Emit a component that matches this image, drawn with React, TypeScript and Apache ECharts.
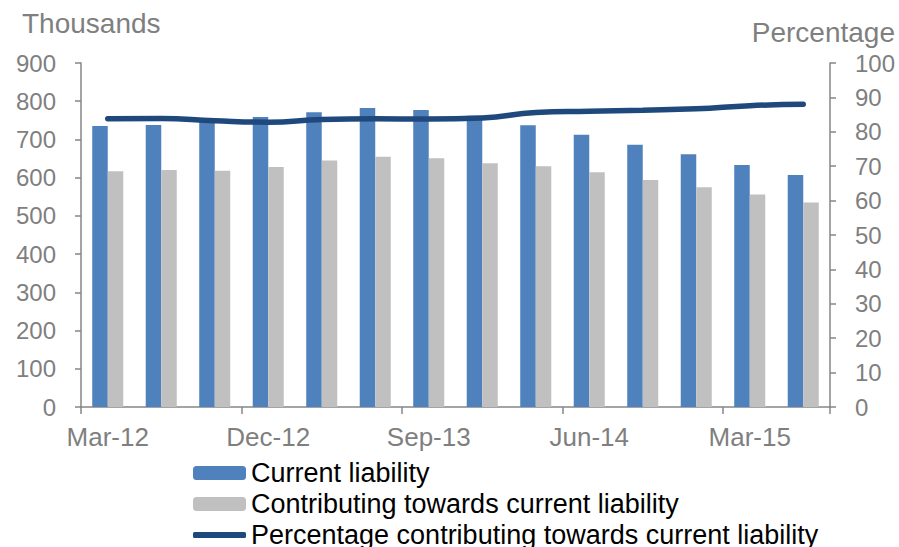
import React, { useEffect, useRef } from "react";
import * as echarts from "echarts";

const categories = [
  "Mar-12", "Jun-12", "Sep-12", "Dec-12", "Mar-13", "Jun-13", "Sep-13",
  "Dec-13", "Mar-14", "Jun-14", "Sep-14", "Dec-14", "Mar-15", "Jun-15",
];
const currentLiability = [735, 738, 750, 759, 771, 782, 777, 762, 737, 712, 686, 661, 633, 607];
const contributing = [617, 620, 618, 628, 645, 655, 651, 638, 630, 614, 594, 575, 556, 535];
const percentage = [83.8, 83.9, 83.2, 82.8, 83.6, 83.8, 83.7, 84.0, 85.6, 86.0, 86.3, 86.7, 87.6, 88.0];

const seriesNames = [
  "Current liability",
  "Contributing towards current liability",
  "Percentage contributing towards current liability",
];

const FONT = "'Liberation Sans', Arial, sans-serif";
const GREY = "#7f7f7f";
const AXIS = "#868686";

export default function App() {
  const ref = useRef<HTMLDivElement>(null);
  useEffect(() => {
    if (!ref.current) return;
    const chart = echarts.init(ref.current, null, { renderer: "svg" });
    const legendText = { color: "#000000", fontSize: 27, fontFamily: FONT, lineHeight: 28 };
    const legendBase = {
      orient: "vertical",
      left: 193,
      padding: 0,
      itemGap: 0,
      itemWidth: 53,
      textStyle: legendText,
    };
    chart.setOption({
      animation: false,
      backgroundColor: "#ffffff",
      textStyle: { fontFamily: FONT },
      grid: { left: 81, right: 69, top: 63, bottom: 140, containLabel: false },
      graphic: [
        {
          type: "text",
          left: 22,
          top: 9,
          style: { text: "Thousands", fill: GREY, font: `28px ${FONT}` },
        },
        {
          type: "text",
          right: 4,
          top: 18,
          style: { text: "Percentage", fill: GREY, font: `28px ${FONT}` },
        },
      ],
      legend: [
        { ...legendBase, top: 459, itemHeight: 14, data: [{ name: seriesNames[0] }] },
        { ...legendBase, top: 490, itemHeight: 14, data: [{ name: seriesNames[1] }] },
        {
          ...legendBase,
          top: 521,
          itemHeight: 6,
          data: [{ name: seriesNames[2], icon: "roundRect" }],
        },
      ],
      xAxis: {
        type: "category",
        data: categories,
        axisLine: { lineStyle: { color: AXIS, width: 1.5 } },
        axisTick: { show: true, interval: 2, length: 7, lineStyle: { color: AXIS, width: 1.5 } },
        axisLabel: { interval: 2, color: GREY, fontSize: 26, fontFamily: FONT, margin: 17 },
      },
      yAxis: [
        {
          type: "value",
          min: 0,
          max: 900,
          interval: 100,
          position: "left",
          splitLine: { show: false },
          axisLine: { show: true, lineStyle: { color: AXIS, width: 1.5 } },
          axisTick: { show: true, length: 6, lineStyle: { color: AXIS, width: 1.5 } },
          axisLabel: { color: GREY, fontSize: 24, fontFamily: FONT, margin: 25 },
        },
        {
          type: "value",
          min: 0,
          max: 100,
          interval: 10,
          position: "right",
          splitLine: { show: false },
          axisLine: { show: true, lineStyle: { color: AXIS, width: 1.5 } },
          axisTick: { show: true, length: 6, lineStyle: { color: AXIS, width: 1.5 } },
          axisLabel: { color: GREY, fontSize: 24, fontFamily: FONT, margin: 25 },
        },
      ],
      series: [
        {
          name: seriesNames[0],
          type: "bar",
          data: currentLiability,
          yAxisIndex: 0,
          barGap: "0%",
          barCategoryGap: "42%",
          itemStyle: { color: "#4F81BD" },
        },
        {
          name: seriesNames[1],
          type: "bar",
          data: contributing,
          yAxisIndex: 0,
          itemStyle: { color: "#C0C0C0" },
        },
        {
          name: seriesNames[2],
          type: "line",
          data: percentage,
          yAxisIndex: 1,
          smooth: true,
          symbol: "none",
          lineStyle: { color: "#1F497D", width: 5.5, cap: "round" },
          itemStyle: { color: "#1F497D" },
        },
      ],
    });
    return () => chart.dispose();
  }, []);
  return <div ref={ref} style={{ width: 899, height: 547, position: "absolute", left: 0, top: 0 }} />;
}
